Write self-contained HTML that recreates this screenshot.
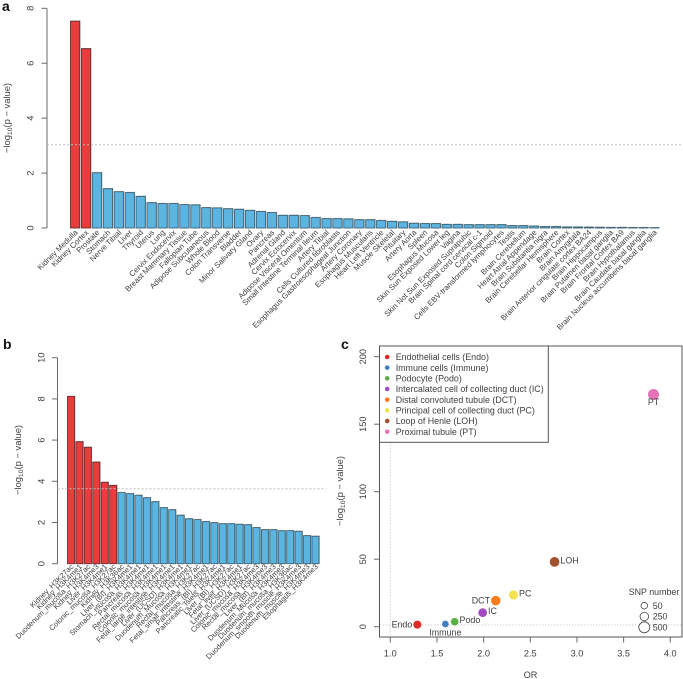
<!DOCTYPE html>
<html>
<head>
<meta charset="utf-8">
<title>Cell type and tissue enrichment</title>
<style>
html,body{margin:0;padding:0;background:#fff;}
svg{display:block;font-family:"Liberation Sans",sans-serif;filter:blur(0.3px);}
</style>
</head>
<body>
<svg id="fig" width="683" height="679" viewBox="0 0 683 679" xmlns="http://www.w3.org/2000/svg"></svg>
<script>
var tissueLabels = ["Kidney Medulla","Kidney Cortex","Prostate","Stomach","Nerve Tibial","Liver","Thyroid","Uterus","Lung","Cervix Endocervix","Breast Mammary Tissue","Fallopian Tube","Adipose Subcutaneous","Whole Blood","Colon Transverse","Bladder","Minor Salivary Gland","Ovary","Pancreas","Adrenal Gland","Cervix Ectocervix","Adipose Visceral Omentum","Small Intestine Terminal Ileum","Artery Tibial","Cells Cultured fibroblasts","Esophagus Gastroesophageal Junction","Artery Coronary","Esophagus Muscularis","Heart Left Ventricle","Muscle Skeletal","Pituitary","Artery Aorta","Spleen","Esophagus Mucosa","Skin Sun Exposed Lower leg","Vagina","Skin Not Sun Exposed Suprapubic","Brain Spinal cord cervical c-1","Colon Sigmoid","Cells EBV-transformed lymphocytes","Testis","Brain Cerebellum","Heart Atrial Appendage","Brain Substantia nigra","Brain Cerebellar Hemisphere","Brain Cortex","Brain Amygdala","Brain Anterior cingulate cortex BA24","Brain Hippocampus","Brain Putamen basal ganglia","Brain Frontal Cortex BA9","Brain Hypothalamus","Brain Caudate basal ganglia","Brain Nucleus accumbens basal ganglia"];
var tissueValues = [7.53,6.53,2.01,1.43,1.32,1.29,1.15,0.92,0.89,0.89,0.85,0.84,0.74,0.73,0.70,0.68,0.64,0.60,0.56,0.46,0.46,0.45,0.38,0.34,0.34,0.33,0.30,0.30,0.27,0.24,0.22,0.17,0.16,0.16,0.13,0.13,0.12,0.12,0.12,0.12,0.085,0.085,0.07,0.05,0.05,0.035,0.035,0.03,0.025,0.02,0.02,0.015,0.015,0.01];
var tissueTicks = [0,2,4,6,8];
var tissueThreshold = 3.03;
var tissueSignificantCount = 2;

var histoneLabels = ["Kidney_H3K27ac","Kidney_H3K4me1","Duodenum_mucosa_H3K27ac","Kidney_H3K4me3","Liver_H3K4me1","Colonic_mucosa_H3K27ac","Kidney_H3K36ac","Liver_(BI)_H3K4me1","Stomach_mucosa_H3K4me1","Pancreas_H3K4me1","Rectal_mucosa_H3K4me1","Colonic_mucosa_H3K4me1","Fetal_large_intestine_H3K4me1","Liver_(UCSD)_H3K4me1","Duodenum_Mucosa_H3K4me1","Rectal_mucosa_H3K27ac","Fetal_small_intestine_H3K4me1","Pancreas_(BI)_H3K27ac","Pancreatic_Islets_H3K4me1","Liver_(BI)_H3K27ac","Fetal_liver_H3K4me1","Liver_(UCSD)_H3K27ac","Colonic_mucosa_H3K4me3","Rectal_mucosa_H3K4me3","Liver_(BI)_H3K4me3","Duodenum_Mucosa_H3K4me3","Duodenum_mucosa_H3K36ac","Duodenum_smooth_muscle_H3K4me3","Duodenum_muscle_H3K4me3","Esophagus_H3K4me3"];
var histoneValues = [8.12,5.92,5.65,4.93,3.95,3.80,3.45,3.40,3.32,3.20,3.01,2.72,2.62,2.35,2.18,2.14,2.04,1.99,1.94,1.94,1.91,1.89,1.75,1.65,1.65,1.60,1.60,1.57,1.36,1.33];
var histoneTicks = [0,2,4,6,8,10];
var histoneThreshold = 3.64;
var histoneSignificantCount = 6;

var cellNames = ["Endothelial cells (Endo)","Immune cells (Immune)","Podocyte (Podo)","Intercalated cell of collecting duct (IC)","Distal convoluted tubule (DCT)","Principal cell of collecting duct (PC)","Loop of Henle (LOH)","Proximal tubule (PT)"];
var cellShort = ["Endo","Immune","Podo","IC","DCT","PC","LOH","PT"];
var cellOR = [1.29,1.59,1.69,1.99,2.13,2.32,2.76,3.82];
var cellLogP = [1.5,2,3.7,10.4,19.3,23.5,48,172];
var cellSNP = [210,75,170,270,350,310,370,500];
var cellColors = ["#e02a26","#4080bd","#5ab045","#a24ac0","#fb7a1c","#f6e24c","#a0522d","#e673b8"];
var cellLabelSide = ["left","below","right","right","left","right","right","under"];
var orTicks = [1.0,1.5,2.0,2.5,3.0,3.5,4.0];
var logPTicks = [0,50,100,150,200];
var snpLegend = [50,250,500];
var nullOR = 1;
var nullLogP = 1.3;

var svg = document.getElementById('fig');
var NS = 'http://www.w3.org/2000/svg';
var TEXT = '#404040', AXIS = '#6a6a6a';

function make(tag, attrs, parent){
  var e = document.createElementNS(NS, tag);
  for (var k in attrs) e.setAttribute(k, attrs[k]);
  (parent || svg).appendChild(e);
  return e;
}
function group(name){
  var g = make('g', {});
  
  
  return g;
}
function label(parent, str, x, y, size, opts){
  opts = opts || {};
  var a = {x:x, y:y, 'font-size':size, fill:opts.fill || TEXT, 'text-anchor':opts.anchor || 'middle'};
  if (opts.rot !== undefined) a.transform = 'rotate(' + opts.rot + ' ' + x + ' ' + y + ')';
  if (opts.weight) a['font-weight'] = opts.weight;
  var t = make('text', a, parent);
  t.textContent = str;
  return t;
}
function yTitle(parent, x, y){
  var t = make('text', {x:x, y:y, 'font-size':9.4, fill:TEXT, 'text-anchor':'middle', transform:'rotate(-90 ' + x + ' ' + y + ')'}, parent);
  var a = make('tspan', {}, t); a.textContent = '\u2212log';
  var b = make('tspan', {dy:2, 'font-size':6.8}, t); b.textContent = '10';
  var c = make('tspan', {dy:-2}, t); c.textContent = '(p \u2212 value)';
  return t;
}

function barPanel(cfg){
  var g = group(cfg.name);
  var yS = function(v){ return cfg.y0 - v * cfg.unit; };
  var xS = function(i){ return cfg.x0 + i * cfg.step; };

  var axis = group(cfg.name + '-y-axis');
  g.appendChild(axis);
  var ticks = cfg.ticks;
  var line = make('line', {x1:cfg.axisX, x2:cfg.axisX, y1:yS(ticks[0]), y2:yS(ticks[ticks.length-1]), stroke:AXIS, 'stroke-width':1}, axis);
  
  
  ticks.forEach(function(v){
    var tk = make('line', {x1:cfg.axisX-5.5, x2:cfg.axisX, y1:yS(v), y2:yS(v), stroke:AXIS, 'stroke-width':1}, axis);
    
    
    var tl = label(axis, String(v), cfg.tickX, yS(v), 9.4, {rot:-90});
    
    
  });
  var title = yTitle(axis, cfg.titleX, cfg.titleY);
  
  

  cfg.values.forEach(function(v, i){
    var red = i < cfg.sig;
    var shadow = make('rect', {x:xS(i)+0.8, y:yS(v)-0.7, width:cfg.width, height:v*cfg.unit+0.7, fill:'#a8a8a8'}, g);
    
    
    var r = make('rect', {x:xS(i), y:yS(v), width:cfg.width, height:v*cfg.unit, fill:red ? '#ea3c3c' : '#5cb5e0', stroke:red ? '#6a3030' : '#3f6478', 'stroke-width':0.9}, g);
    
    
    var ex = xS(i) + cfg.width/2 + cfg.labelDx;
    var tl = label(g, cfg.labels[i], ex, cfg.y0 + cfg.labelDy, cfg.labelSize, {anchor:'end', rot:-45});
    
    
  });

  var th = make('line', {x1:cfg.axisX, x2:cfg.thEnd, y1:yS(cfg.threshold), y2:yS(cfg.threshold), stroke:'#bdbdbd', 'stroke-width':1, 'stroke-dasharray':'2 2'}, g);
  
  
}

barPanel({name:'tissue-panel', labels:tissueLabels, values:tissueValues, ticks:tissueTicks, threshold:tissueThreshold, sig:tissueSignificantCount,
  y0:228, unit:27.46, x0:70.5, step:10.93, width:9.2, axisX:47, tickX:33.5, titleX:10, titleY:118, thEnd:683,
  labelDx:3, labelDy:5, labelSize:7.75});
barPanel({name:'histone-panel', labels:histoneLabels, values:histoneValues, ticks:histoneTicks, threshold:histoneThreshold, sig:histoneSignificantCount,
  y0:563.7, unit:20.6, x0:67.5, step:8.43, width:7, axisX:57.5, tickX:44.5, titleX:21, titleY:460, thEnd:326,
  labelDx:3, labelDy:3.5, labelSize:7.5});

var pa = label(svg, 'a', 2, 11, 14, {anchor:'start', weight:'bold', fill:'#111'});


var pb = label(svg, 'b', 3, 349, 14, {anchor:'start', weight:'bold', fill:'#111'});


var pc = label(svg, 'c', 341, 349, 14, {anchor:'start', weight:'bold', fill:'#111'});



/* panel c */
var sc = group('scatter-panel');
var xOR = function(v){ return 390.3 + (v - 1) * 93.33; };
var yLP = function(v){ return 626.7 - v * 1.35; };
var rSNP = function(s){ return 3 + s * 0.005; };

var nullV = make('line', {x1:xOR(nullOR), x2:xOR(nullOR), y1:346, y2:637, stroke:'#cfcfcf', 'stroke-width':0.9, 'stroke-dasharray':'1.5 1.5'}, sc);


var nullH = make('line', {x1:380, x2:682, y1:yLP(nullLogP), y2:yLP(nullLogP), stroke:'#cfcfcf', 'stroke-width':0.9, 'stroke-dasharray':'1.5 1.5'}, sc);



var frame = make('rect', {x:379.5, y:346, width:302.5, height:291, fill:'none', stroke:'#555', 'stroke-width':1}, sc);



orTicks.forEach(function(v){
  var tk = make('line', {x1:xOR(v), x2:xOR(v), y1:637, y2:642.5, stroke:AXIS, 'stroke-width':1}, sc);
  
  
  var tl = label(sc, v.toFixed(1), xOR(v), 656.5, 9.2);
  
  
});
logPTicks.forEach(function(v){
  var tk = make('line', {x1:374, x2:379.5, y1:yLP(v), y2:yLP(v), stroke:AXIS, 'stroke-width':1}, sc);
  
  
  var tl = label(sc, String(v), 366, yLP(v), 9.2, {rot:-90});
  
  
});
var xt = label(sc, 'OR', 530.5, 678, 9.2);


var yt = yTitle(sc, 343, 491);



cellOR.forEach(function(v, i){
  var cx = xOR(v), cy = yLP(cellLogP[i]), r = rSNP(cellSNP[i]);
  var c = make('circle', {cx:cx, cy:cy, r:r, fill:cellColors[i]}, sc);
  
  
  var side = cellLabelSide[i], tx, ty, anchor;
  if (side === 'left'){ tx = cx - r - 1; ty = cy + 3; anchor = 'end'; }
  else if (side === 'right'){ tx = cx + r + 1; ty = cy + 1.5; anchor = 'start'; }
  else if (side === 'below'){ tx = cx; ty = cy + 11.5; anchor = 'middle'; }
  else { tx = cx; ty = cy + 10.5; anchor = 'middle'; }
  var t = label(sc, cellShort[i], tx, ty, 8.9, {anchor:anchor});
  
  
});

var leg = group('cell-type-legend');
sc.appendChild(leg);
var legBox = make('rect', {x:379.5, y:346, width:168.8, height:96.3, fill:'#fff', stroke:'#555', 'stroke-width':1}, leg);


cellNames.forEach(function(n, i){
  var ly = 357 + i * 10.67;
  var d = make('circle', {cx:387.2, cy:ly, r:2.3, fill:cellColors[i]}, leg);
  
  
  var t = label(leg, n, 395.7, ly + 3.1, 8.9, {anchor:'start'});
  
  
});

var snpG = group('snp-size-legend');
sc.appendChild(snpG);
var st = label(snpG, 'SNP number', 654, 595, 8.9);


snpLegend.forEach(function(s, i){
  var ly = 605.7 + i * 10.8;
  var c = make('circle', {cx:644.3, cy:ly, r:rSNP(s), fill:'#fff', stroke:'#444', 'stroke-width':0.8}, snpG);
  
  
  var t = label(snpG, String(s), 652.7, ly + 3.2, 8.9, {anchor:'start'});
  
  
});
</script>
</body>
</html>
